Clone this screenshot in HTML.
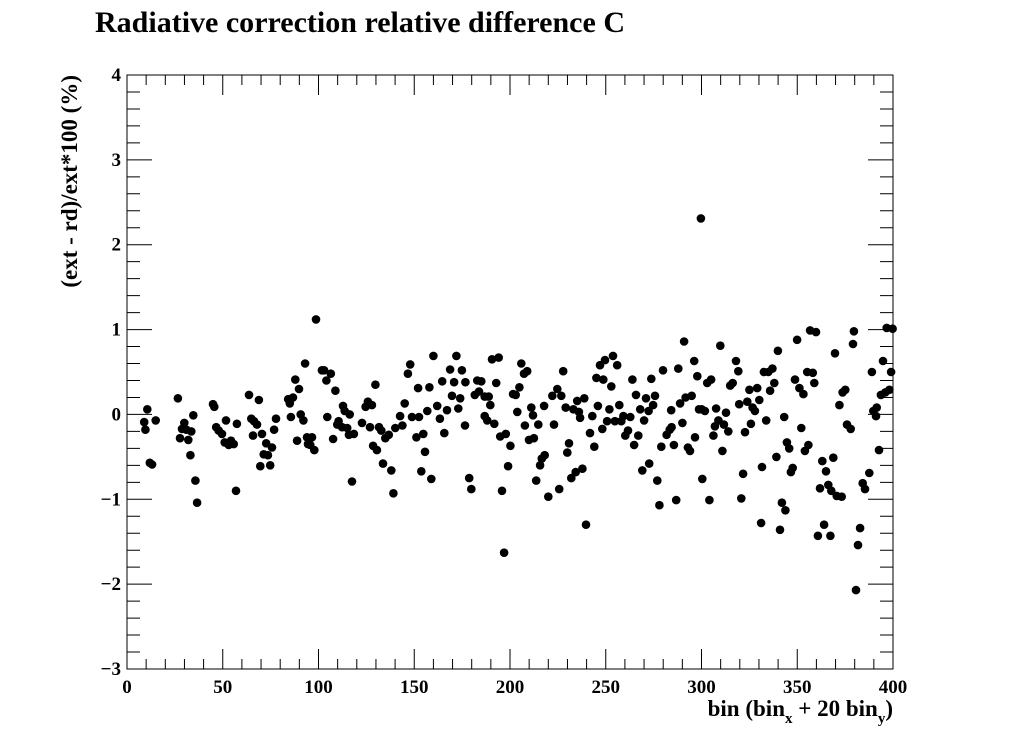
<!DOCTYPE html>
<html><head><meta charset="utf-8"><style>
html,body{margin:0;padding:0;background:#fff;}
svg{display:block;font-family:"Liberation Serif",serif;font-weight:bold;}
</style></head><body>
<svg id="chart" width="1022" height="744" viewBox="0 0 1022 744" xmlns="http://www.w3.org/2000/svg">
<rect width="1022" height="744" fill="#fff"/>
<text x="95" y="32" font-size="30" textLength="530" lengthAdjust="spacingAndGlyphs">Radiative correction relative difference C</text>
<text x="893" y="716" font-size="23" text-anchor="end">bin (bin<tspan font-size="15" dy="7">x</tspan><tspan dy="-7"> + 20 bin</tspan><tspan font-size="15" dy="7">y</tspan><tspan dy="-7">)</tspan></text>
<text transform="translate(77,75) rotate(-90)" font-size="23" text-anchor="end">(ext - rd)/ext*100 (%)</text>
<g id="axes"></g>
<g id="points"></g>
</svg>
<script>
const xVals=[9.0,10.6,9.6,11.9,13.1,15.0,26.6,29.9,28.7,31.0,33.6,27.7,32.0,34.6,33.1,35.7,36.6,44.9,45.6,51.7,57.4,46.6,47.9,49.6,51.0,53.1,54.3,55.7,56.9,63.7,68.9,64.9,66.3,67.9,65.8,70.5,72.7,71.4,73.6,75.7,69.6,74.8,77.8,76.8,84.2,85.0,86.7,87.9,89.8,85.6,90.7,92.1,88.8,94.0,96.6,94.5,95.7,97.8,93.0,98.7,101.8,
102.9,106.4,104.1,108.8,104.6,107.6,112.8,113.7,116.3,110.5,109.8,112.3,115.0,115.9,118.5,117.5,122.7,129.7,125.8,124.6,127.9,126.9,131.6,132.8,136.7,134.9,128.5,130.5,133.7,138.0,139.1,140.1,143.8,142.6,145.0,146.7,147.9,148.8,152.5,152.0,157.9,151.1,154.7,155.6,153.7,158.9,160.0,156.8,162.0,163.4,164.6,165.7,167.1,168.7,172.0,170.8,169.7,174.0,173.0,174.9,176.7,176.5,178.7,179.8,181.6,183.8,182.9,185.0,186.8,188.9,189.7,186.8,188.1,191.8,190.6,194.1,192.8,194.9,197.8,200.2,199.0,195.8,196.9,201.6,
205.9,207.3,209.0,204.9,203.0,203.8,211.1,212.0,207.8,214.8,209.9,212.5,217.8,223.0,222.1,224.7,226.8,227.8,229.1,233.1,236.0,236.6,235.1,238.8,230.8,229.9,218.1,216.6,215.7,213.7,220.0,225.7,232.0,234.3,237.8,239.7,243.0,241.8,244.0,245.9,245.1,248.7,247.0,249.6,253.8,256.0,252.9,251.9,248.2,250.7,254.8,258.1,257.1,259.2,262.8,261.6,260.2,267.0,264.8,263.9,265.8,268.0,270.0,271.0,272.4,274.7,275.7,273.8,272.7,269.1,276.9,278.0,279.9,284.2,287.9,288.8,291.7,294.9,284.4,283.4,281.8,290.0,279.0,285.6,292.9,294.0,296.6,290.9,296.2,297.8,298.7,300.4,286.8,299.7,
300.1,301.8,304.1,309.8,303.0,305.0,307.6,312.8,308.8,307.0,311.7,314.0,306.2,310.9,318.0,319.2,315.0,316.3,325.0,329.1,323.9,319.7,330.2,326.7,327.9,325.8,322.7,333.8,321.7,320.8,331.6,331.1,339.9,332.6,334.9,337.0,338.0,335.8,343.2,339.1,344.6,345.8,347.6,346.7,342.0,343.8,341.0,349.9,348.8,351.1,353.2,352.1,355.8,354.0,356.7,359.8,355.2,358.1,358.9,363.1,365.0,368.8,361.9,366.2,367.8,370.6,373.2,364.0,360.8,367.3,369.7,372.0,373.7,375.1,376.0,377.9,379.6,379.1,382.8,381.7,380.7,384.2,385.4,387.6,392.7,391.5,389.7,391.1,393.7,396.0,398.1,394.8,389.0,399.0,396.7,399.8];
const yVals=[-0.09,0.06,-0.18,-0.57,-0.59,-0.07,0.19,-0.10,-0.17,-0.18,-0.20,-0.28,-0.30,-0.01,-0.48,-0.78,-1.04,0.12,0.09,-0.07,-0.11,-0.15,-0.19,-0.23,-0.33,-0.36,-0.31,-0.35,-0.90,0.23,0.17,-0.05,-0.08,-0.12,-0.25,-0.23,-0.34,-0.47,-0.48,-0.39,-0.61,-0.60,-0.05,-0.18,0.18,0.13,0.20,0.41,0.30,-0.03,0.00,-0.07,-0.31,-0.27,-0.27,-0.35,-0.36,-0.42,0.60,1.12,0.52,
0.52,0.48,0.40,0.28,-0.03,-0.29,0.10,0.04,0.00,-0.08,-0.12,-0.15,-0.16,-0.24,-0.23,-0.79,-0.10,0.35,0.15,0.09,0.11,-0.15,-0.15,-0.19,-0.24,-0.28,-0.37,-0.42,-0.58,-0.66,-0.93,-0.16,-0.13,-0.02,0.13,0.48,0.59,-0.03,-0.03,0.31,0.32,-0.27,-0.23,-0.44,-0.67,-0.76,0.69,0.04,0.10,-0.05,0.39,-0.22,0.05,0.53,0.69,0.38,0.22,0.19,0.07,0.52,0.38,-0.13,-0.75,-0.88,0.23,0.27,0.40,0.39,0.21,0.21,0.11,-0.02,-0.07,-0.11,0.65,0.67,0.37,-0.26,-0.23,-0.37,-0.61,-0.90,-1.63,0.24,
0.60,0.48,0.51,0.32,0.23,0.03,0.08,-0.01,-0.13,-0.12,-0.30,-0.28,0.10,-0.12,0.22,0.30,0.22,0.51,0.08,0.06,0.03,-0.04,0.16,0.19,-0.34,-0.45,-0.48,-0.52,-0.60,-0.78,-0.97,-0.88,-0.75,-0.68,-0.64,-1.30,-0.02,-0.22,-0.38,0.10,0.43,0.41,0.58,0.64,0.69,0.58,0.33,0.06,-0.17,-0.08,-0.08,-0.08,0.11,-0.02,-0.03,-0.19,-0.25,-0.25,-0.36,0.41,0.23,0.06,-0.07,0.19,0.04,0.11,0.22,0.42,-0.58,-0.66,-0.78,-1.07,0.52,0.05,0.54,0.13,0.20,0.22,-0.15,-0.18,-0.24,-0.10,-0.38,-0.36,-0.39,-0.43,-0.27,0.86,0.63,0.45,0.06,-0.76,-1.01,2.31,
0.06,0.04,-1.01,0.81,0.37,0.41,0.07,0.02,-0.07,-0.14,-0.12,-0.20,-0.25,-0.43,0.63,0.51,0.34,0.37,0.29,0.31,0.15,0.12,0.17,0.08,0.04,-0.11,-0.21,-0.07,-0.70,-0.99,-0.62,-1.28,0.75,0.50,0.50,0.54,0.37,0.28,-0.03,-0.50,-0.33,-0.40,-0.63,-0.68,-1.04,-1.13,-1.36,0.88,0.41,0.31,0.24,-0.16,-0.36,-0.43,0.99,0.97,0.50,0.49,0.37,-0.55,-0.67,-0.51,-0.87,-0.83,-0.90,-0.96,-0.97,-1.30,-1.43,-1.43,0.72,0.11,0.26,0.29,-0.12,-0.17,0.98,0.83,-1.34,-1.54,-2.07,-0.81,-0.88,-0.69,-0.42,0.08,0.04,-0.02,0.23,0.26,0.29,0.63,0.50,0.50,1.02,1.01];
const xTicks=[0,50,100,150,200,250,300,350,400];
const yTicks=[-3,-2,-1,0,1,2,3,4];

const NS="http://www.w3.org/2000/svg";
const L=127,R=893,T=75,B=669,X0=0,X1=400,Y0=-3,Y1=4;
function sx(v){return L+(v-X0)/(X1-X0)*(R-L);}
function sy(v){return B-(v-Y0)/(Y1-Y0)*(B-T);}
function mk(tag,attrs,parent){const e=document.createElementNS(NS,tag);for(const k in attrs)e.setAttribute(k,attrs[k]);parent.appendChild(e);return e;}
const ax=document.getElementById('axes');
const frame=mk('rect',{x:L,y:T,width:R-L,height:B-T,fill:'none',stroke:'#000','stroke-width':1},ax);


let d='';
for(let v=X0;v<=X1+1e-9;v+=10){const x=sx(v);const len=(Math.round(v)%50===0)?20:10;d+=`M${x},${B}v${-len}M${x},${T}v${len}`;}
for(let v=Y0;v<=Y1+1e-9;v+=0.2){const y=sy(v);const len=(Math.abs(v-Math.round(v))<1e-6)?25:13;d+=`M${L},${y}h${len}M${R},${y}h${-len}`;}
const tk=mk('path',{d:d,stroke:'#000','stroke-width':1,fill:'none'},ax);


xTicks.forEach(v=>{const t=mk('text',{x:sx(v),y:B+24,'font-size':19,'text-anchor':'middle'},ax);t.textContent=String(v);

});
yTicks.forEach(v=>{const t=mk('text',{x:L-6,y:sy(v)+6,'font-size':19,'text-anchor':'end'},ax);t.textContent=v<0?'\u2212'+Math.abs(v):String(v);

});
const pg=document.getElementById('points');
for(let i=0;i<xVals.length;i++){const c=mk('circle',{cx:sx(xVals[i]).toFixed(1),cy:sy(yVals[i]).toFixed(1),r:4.3,fill:'#000'},pg);

}
</script>
</body></html>
